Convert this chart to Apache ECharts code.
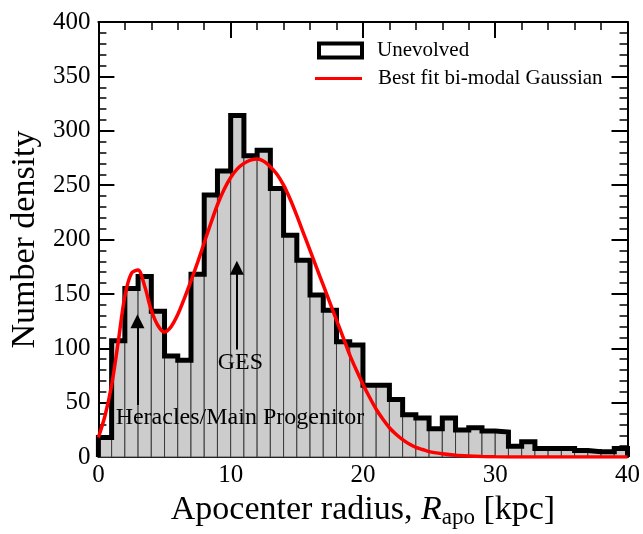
<!DOCTYPE html>
<html>
<head>
<meta charset="utf-8">
<script src="https://cdn.jsdelivr.net/npm/echarts@6/dist/echarts.min.js"></script>
<style>
html,body{margin:0;padding:0;background:#fff;}
#c{width:643px;height:534px;}
</style>
</head>
<body>
<div id="c"></div>
<script>
// Histogram: counts per 1-kpc bin from 0 to 40 kpc
const binWidth = 1;
const binCounts = [18,107,155,166,134,93,89,168,241,263,314,277,282,247,204,181,149,135,106,103,66,66,53,39,36,26,36,25,27,24,23,10,14,8,8,8,6,5,5,8];
// Best-fit bi-modal Gaussian
const curveX = [0,0.5,1,1.5,2,2.5,3,3.5,4,4.5,5,5.5,6,6.5,7,7.5,8,8.5,9,9.5,10,10.5,11,11.5,12,12.5,13,13.5,14,14.5,15,15.5,16,16.5,17,17.5,18,18.5,19,19.5,20,20.5,21,21.5,22,22.5,23,23.5,24,24.5,25,26,27,28,29,30,32,35,40];
const curveY = [18,38,66,106,148,169,172,157,135,121,115,120,131,146,162,179,197,215,232,246,257,265,270,273,274,272,267,260,250,237,222,206,190,174,158,142,126,110,94,80,67,55,44,35,27,21,16,12,9,7,5,3,1.6,0.9,0.5,0.3,0.1,0,0];
// Axis ticks
const xTicks = {min:0, max:40, interval:10};
const yTicks = {min:0, max:400, interval:50};
// Annotations
const arrows = [
  {x:2.95, from:48, to:125},
  {x:10.47, from:99, to:174}
];
const notes = [
  {text:'Heracles/Main Progenitor', x:10.7, y:36},
  {text:'GES', x:10.73, y:87}
];

const FONT = 'Liberation Serif';

const barData = binCounts.map((v,i)=>[i*binWidth,(i+1)*binWidth,v]);
const stepData = [[0,0]];
binCounts.forEach((v,i)=>{ stepData.push([i*binWidth,v]); stepData.push([(i+1)*binWidth,v]); });
stepData.push([binCounts.length*binWidth,0]);
const curveData = curveX.map((x,i)=>[x,curveY[i]]);

const chart = echarts.init(document.getElementById('c'), null, {renderer:'canvas'});

function xAxisCfg(pos, showLabel){
  return {
    type:'value', position:pos, min:xTicks.min, max:xTicks.max, interval:xTicks.interval,
    axisLine:{show:true, onZero:false, lineStyle:{color:'#000', width:2}},
    axisTick:{show:true, inside:true, length:16, lineStyle:{color:'#000', width:2}},
    minorTick:{show:true, splitNumber:5, length:8, lineStyle:{color:'#000', width:1.5}},
    splitLine:{show:false}, minorSplitLine:{show:false},
    axisLabel:{show:showLabel, color:'#000', fontFamily:FONT, fontSize:25, margin:6},
    name: showLabel ? '{n|Apocenter radius, }{i|R}{s|apo}{n| [kpc]}' : '',
    nameLocation:'middle', nameGap:31,
    nameTextStyle:{color:'#000', fontFamily:FONT, fontSize:34,
      rich:{
        n:{fontFamily:FONT, fontSize:34, color:'#000'},
        i:{fontFamily:FONT, fontSize:34, fontStyle:'italic', color:'#000'},
        s:{fontFamily:FONT, fontSize:23, color:'#000', padding:[15,0,0,0]}
      }}
  };
}
function yAxisCfg(pos, showLabel){
  return {
    type:'value', position:pos, min:yTicks.min, max:yTicks.max, interval:yTicks.interval,
    axisLine:{show:true, onZero:false, lineStyle:{color:'#000', width:2}},
    axisTick:{show:true, inside:true, length:16, lineStyle:{color:'#000', width:2}},
    minorTick:{show:true, splitNumber:5, length:8, lineStyle:{color:'#000', width:1.5}},
    splitLine:{show:false}, minorSplitLine:{show:false},
    axisLabel:{show:showLabel, color:'#000', fontFamily:FONT, fontSize:25, margin:8},
    name: showLabel ? 'Number density' : '',
    nameLocation:'middle', nameGap:52,
    nameTextStyle:{color:'#000', fontFamily:FONT, fontSize:34}
  };
}

chart.setOption({
  animation:false,
  backgroundColor:'#fff',
  grid:{left:97, right:15, top:22, bottom:69, containLabel:false},
  xAxis:[xAxisCfg('bottom', true), xAxisCfg('top', false)],
  yAxis:[yAxisCfg('left', true), yAxisCfg('right', false)],
  legend:[
    {left:317, top:40, padding:0, itemWidth:43, itemHeight:14, selectedMode:false,
     textStyle:{fontFamily:FONT, fontSize:21, color:'#000', padding:[0,0,0,10]},
     data:[{name:'Unevolved', icon:'rect', itemStyle:{color:'#fff', borderColor:'#000', borderWidth:4}}]},
    {left:315, top:68, padding:0, itemWidth:47, itemHeight:3, selectedMode:false,
     textStyle:{fontFamily:FONT, fontSize:21, color:'#000', padding:[0,0,0,11]},
     data:[{name:'Best fit bi-modal Gaussian', icon:'rect', itemStyle:{color:'#ff0000', borderWidth:0}}]}
  ],
  series:[
    {
      type:'custom', name:'bars', xAxisIndex:0, yAxisIndex:0, z:2,
      renderItem:function(params, api){
        const p0 = api.coord([api.value(0), api.value(2)]);
        const p1 = api.coord([api.value(1), 0]);
        return {type:'rect', shape:{x:p0[0], y:p0[1], width:p1[0]-p0[0], height:p1[1]-p0[1]},
          style:{fill:'#cccccc', stroke:'#3a3a3a', lineWidth:1}};
      },
      encode:{x:[0,1], y:2},
      data:barData, silent:true
    },
    {
      type:'line', name:'Unevolved', xAxisIndex:0, yAxisIndex:0, z:3,
      data:stepData, showSymbol:false, symbol:'none',
      lineStyle:{color:'#000', width:5, join:'miter'}, itemStyle:{color:'#000'}, silent:true
    },
    {
      type:'scatter', name:'notes', xAxisIndex:0, yAxisIndex:0, z:4,
      symbolSize:0, silent:true, itemStyle:{opacity:1},
      data:notes.map(n=>({value:[n.x,n.y], label:{formatter:n.text}})),
      label:{show:true, position:'inside', color:'#000', opacity:1, fontFamily:FONT, fontSize:24},
      markLine:{
        silent:true, symbol:['none','triangle'], symbolSize:14, precision:4,
        label:{show:false},
        lineStyle:{color:'#000', width:2, type:'solid', opacity:1},
        itemStyle:{color:'#000'},
        emphasis:{disabled:true},
        data:arrows.map(a=>[{coord:[a.x,a.from]},{coord:[a.x,a.to]}])
      }
    },
    {
      type:'line', name:'Best fit bi-modal Gaussian', xAxisIndex:0, yAxisIndex:0, z:5,
      data:curveData, smooth:0.3, showSymbol:false, symbol:'none',
      lineStyle:{color:'#ff0000', width:3.5}, itemStyle:{color:'#ff0000'}, silent:true
    }
  ]
});
</script>
</body>
</html>
